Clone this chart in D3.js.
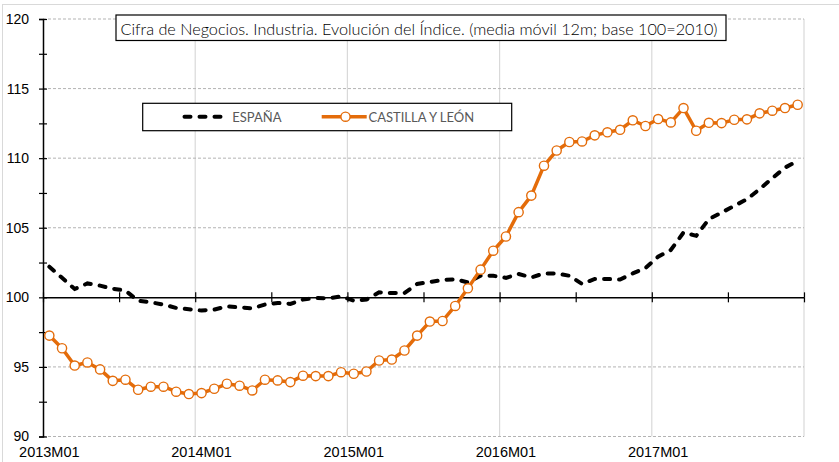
<!DOCTYPE html>
<html>
<head>
<meta charset="utf-8">
<script src="https://cdnjs.cloudflare.com/ajax/libs/d3/7.8.5/d3.min.js"></script>
<style>
    body { margin: 0; background: #fff; }
    svg { display: block; font-family: Lato, "Open Sans", sans-serif; }
</style>
</head>
<body>
<div class="chart"><svg></svg></div>
<script>
// categories: months 2013M01..2017M12
var years = [2013, 2014, 2015, 2016, 2017];
var months = ["01","02","03","04","05","06","07","08","09","10","11","12"];
var tickLabels = ["2013M01", "2014M01", "2015M01", "2016M01", "2017M01"];
var yTicks = [90, 95, 100, 105, 110, 115, 120];

var espana = [102.2, 101.4, 100.6, 101.0, 100.84, 100.62, 100.48, 99.75, 99.64, 99.48, 99.24, 99.14,
              99.05, 99.12, 99.35, 99.28, 99.21, 99.48, 99.6, 99.53, 99.84, 99.95, 99.93, 100.07,
              99.76, 99.84, 100.36, 100.31, 100.31, 100.96, 101.1, 101.25, 101.3, 101.07, 101.55, 101.55,
              101.4, 101.68, 101.43, 101.72, 101.72, 101.55, 100.96, 101.32, 101.32, 101.28, 101.72, 102.1,
              102.92, 103.4, 104.66, 104.42, 105.62, 106.09, 106.57, 107.05, 107.77, 108.56, 109.32, 109.8];

var castilla = [97.25, 96.34, 95.10, 95.32, 94.82, 94.00, 94.08, 93.36, 93.58, 93.58, 93.22, 93.05,
                93.12, 93.43, 93.79, 93.65, 93.31, 94.08, 94.03, 93.91, 94.37, 94.34, 94.34, 94.62,
                94.51, 94.67, 95.46, 95.53, 96.18, 97.25, 98.26, 98.30, 99.38, 100.65, 101.99, 103.35,
                104.37, 106.12, 107.31, 109.46, 110.55, 111.16, 111.20, 111.64, 111.86, 112.04, 112.72, 112.31,
                112.81, 112.57, 113.60, 111.97, 112.54, 112.52, 112.76, 112.79, 113.22, 113.41, 113.60, 113.84];

var categories = [];
years.forEach(function(y){ months.forEach(function(m){ categories.push(y + "M" + m); }); });

var width = 839, height = 462;
var plotLeft = 43, plotRight = 804, plotTop = 19, plotBottom = 436.5;
var orange = "#e46c0a";

var svg = d3.select(".chart").select("svg")
    .attr("width", width)
    .attr("height", height);

// chart border
svg.append("rect")
    .attr("x", 2.5).attr("y", 4.5)
    .attr("width", width).attr("height", height)
    .attr("fill", "none")
    .attr("stroke", "#d9d9d9");

//Scale
var xScale = d3.scaleBand()
    .domain(categories)
    .range([plotLeft, plotRight])
    .padding(0);

var xIdx = d3.scaleLinear()
    .domain([0, categories.length])
    .range([plotLeft, plotRight]);

var yScale = d3.scaleLinear()
    .domain([90, 120])
    .range([plotBottom, plotTop]);

// vertical gridlines at year boundaries
svg.append("g")
    .selectAll("line")
    .data(d3.range(12, categories.length + 1, 12))
    .enter().append("line")
    .attr("x1", function(d){ return xIdx(d); })
    .attr("x2", function(d){ return xIdx(d); })
    .attr("y1", plotTop).attr("y2", plotBottom)
    .attr("stroke", "#d9d9d9")
    .attr("stroke-width", 1.2);

// horizontal dashed gridlines
svg.append("g")
    .selectAll("line")
    .data(yTicks.filter(function(d){ return d != 100; }))
    .enter().append("line")
    .attr("x1", plotLeft).attr("x2", plotRight)
    .attr("y1", function(d){ return yScale(d); })
    .attr("y2", function(d){ return yScale(d); })
    .attr("stroke", "#b3b3b3")
    .attr("stroke-dasharray", "3,2");

//Axis
var yMinor = d3.range(90, 120.1, 2.5);
var yAxis = d3.axisLeft(yScale)
    .tickValues(yMinor)
    .tickSize(4)
    .tickPadding(10)
    .tickFormat(function(d){ return d % 5 == 0 ? d : ""; });

var yAxisG = svg.append("g")
    .attr("transform", "translate(" + plotLeft + ",0)")
    .call(yAxis);
yAxisG.select(".domain").attr("stroke", "#000").attr("stroke-width", 1.5);
yAxisG.selectAll(".tick line").attr("stroke", "#000").attr("stroke-width", 1.2);
yAxisG.selectAll("text").attr("font-size", "14px").attr("fill", "#000");

svg.append("g")
    .attr("transform", "translate(" + plotLeft + ",0)")
    .call(d3.axisRight(yScale).tickValues(yMinor).tickSize(4).tickFormat(""))
    .call(function(g){ g.select(".domain").remove(); })
    .selectAll(".tick line").attr("stroke", "#000").attr("stroke-width", 1.2);

// x axis line at 100 with crossing ticks every 6 months
var xTickIdx = d3.range(0, categories.length + 1, 6);
svg.append("g")
    .attr("transform", "translate(0," + yScale(100) + ")")
    .call(d3.axisBottom(xIdx).tickValues(xTickIdx).tickSize(5).tickSizeOuter(0).tickFormat(""))
    .call(function(g){
        g.select(".domain").attr("stroke", "#000").attr("stroke-width", 1.5);
        g.selectAll(".tick line").attr("stroke", "#000").attr("stroke-width", 1.2);
    });
svg.append("g")
    .attr("transform", "translate(0," + yScale(100) + ")")
    .call(d3.axisTop(xIdx).tickValues(xTickIdx).tickSize(5).tickSizeOuter(0).tickFormat(""))
    .call(function(g){
        g.select(".domain").remove();
        g.selectAll(".tick line").attr("stroke", "#000").attr("stroke-width", 1.2);
    });

// x labels at the bottom
var xAxisG = svg.append("g")
    .attr("transform", "translate(0," + plotBottom + ")")
    .call(d3.axisBottom(xScale).tickValues(tickLabels).tickSize(0).tickPadding(10));
xAxisG.select(".domain").remove();
xAxisG.selectAll("text").attr("font-size", "14.5px").attr("fill", "#000");

// series
var line = d3.line()
    .x(function(d, i){ return xScale(categories[i]) + xScale.bandwidth() / 2; })
    .y(function(d){ return yScale(d); });

svg.append("path")
    .datum(espana)
    .attr("d", line)
    .attr("fill", "none")
    .attr("stroke", "#000")
    .attr("stroke-width", 4)
    .attr("stroke-linecap", "round")
    .attr("stroke-dasharray", "6,9");

svg.append("path")
    .datum(castilla)
    .attr("d", line)
    .attr("fill", "none")
    .attr("stroke", orange)
    .attr("stroke-width", 3.5)
    .attr("stroke-linejoin", "round");

svg.append("g")
    .selectAll("circle")
    .data(castilla)
    .enter().append("circle")
    .attr("cx", function(d, i){ return xScale(categories[i]) + xScale.bandwidth() / 2; })
    .attr("cy", function(d){ return yScale(d); })
    .attr("r", 4.6)
    .attr("fill", "#fff")
    .attr("stroke", orange)
    .attr("stroke-width", 1.4);

// title box
var title = svg.append("g");
title.append("rect")
    .attr("x", 116).attr("y", 15)
    .attr("width", 610).attr("height", 25.5)
    .attr("fill", "#fff")
    .attr("stroke", "#000")
    .attr("stroke-width", 1.2);
title.append("text")
    .attr("x", 120.5).attr("y", 34.5)
    .attr("font-size", "15.5px")
    .attr("font-weight", 300)
    .attr("fill", "#000")
    .attr("textLength", 597)
    .attr("lengthAdjust", "spacingAndGlyphs")
    .text("Cifra de Negocios. Industria. Evolución del Índice. (media móvil 12m; base 100=2010)");

// legend
var legend = svg.append("g");
legend.append("rect")
    .attr("x", 142.7).attr("y", 103.3)
    .attr("width", 369).attr("height", 27.4)
    .attr("fill", "#fff")
    .attr("stroke", "#000")
    .attr("stroke-width", 1.2);
legend.append("line")
    .attr("x1", 184.5).attr("x2", 221.5)
    .attr("y1", 116.7).attr("y2", 116.7)
    .attr("stroke", "#000")
    .attr("stroke-width", 4)
    .attr("stroke-linecap", "round")
    .attr("stroke-dasharray", "6,9");
legend.append("text")
    .attr("x", 232.3).attr("y", 121.5)
    .attr("font-size", "13px")
    .attr("fill", "#595959")
    .text("ESPAÑA");
legend.append("line")
    .attr("x1", 321.7).attr("x2", 366.7)
    .attr("y1", 116.7).attr("y2", 116.7)
    .attr("stroke", orange)
    .attr("stroke-width", 3.5);
legend.append("circle")
    .attr("cx", 345.5).attr("cy", 116.7)
    .attr("r", 4.6)
    .attr("fill", "#fff")
    .attr("stroke", orange)
    .attr("stroke-width", 1.4);
legend.append("text")
    .attr("x", 368.5).attr("y", 121.5)
    .attr("font-size", "13px")
    .attr("fill", "#595959")
    .text("CASTILLA Y LEÓN");
</script>
</body>
</html>
